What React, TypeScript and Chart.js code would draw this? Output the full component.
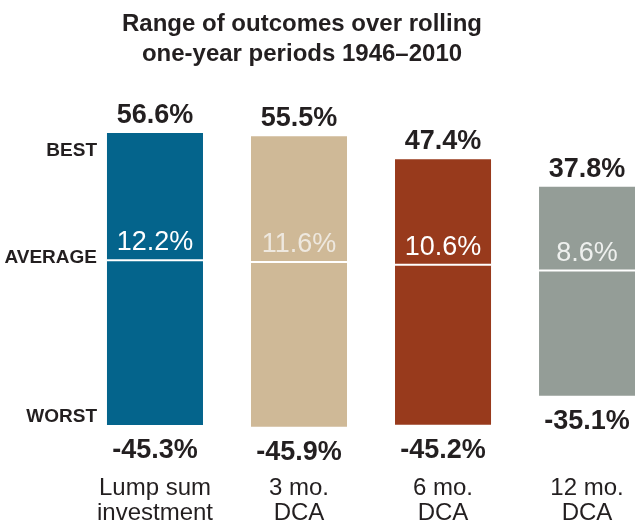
import React, { useEffect, useRef } from 'react';
import { Chart, registerables } from 'chart.js';

Chart.register(...registerables);

const categories: string[][] = [
  ['Lump sum', 'investment'],
  ['3 mo.', 'DCA'],
  ['6 mo.', 'DCA'],
  ['12 mo.', 'DCA'],
];
const bestValues = [56.6, 55.5, 47.4, 37.8];
const averageValues = [12.2, 11.6, 10.6, 8.6];
const worstValues = [-45.3, -45.9, -45.2, -35.1];
const barColors = ['#04648c', '#cfb997', '#983a1c', '#949d97'];
const averageTextColors = ['#ffffff', '#eee8df', '#ffffff', '#eef0ee'];
const yTickValues = [50.5, 13, -42.5];
const yTickLabels = ['BEST', 'AVERAGE', 'WORST'];
const titleLines = ['Range of outcomes over rolling', 'one-year periods 1946\u20132010'];

const FONT = '"Liberation Sans", Arial, sans-serif';
const TEXT = '#231f20';

const fmt = (v: number) => `${v.toFixed(1)}%`;

const rangeLabels = {
  id: 'rangeLabels',
  afterDatasetsDraw(chart: any) {
    const ctx = chart.ctx;
    const meta = chart.getDatasetMeta(0);
    const yScale = chart.scales.y;
    ctx.save();
    meta.data.forEach((bar: any, i: number) => {
      const { x, width } = bar.getProps(['x', 'width'], true);
      const left = x - width / 2;
      const yBest = yScale.getPixelForValue(bestValues[i]);
      const yWorst = yScale.getPixelForValue(worstValues[i]);
      const yAvg = yScale.getPixelForValue(averageValues[i]);
      ctx.strokeStyle = '#ffffff';
      ctx.lineWidth = 2;
      ctx.beginPath();
      ctx.moveTo(left, yAvg);
      ctx.lineTo(left + width, yAvg);
      ctx.stroke();
      ctx.textAlign = 'center';
      ctx.textBaseline = 'alphabetic';
      ctx.font = `bold 27px ${FONT}`;
      ctx.fillStyle = TEXT;
      ctx.fillText(fmt(bestValues[i]), x, yBest - 10);
      ctx.fillText(fmt(worstValues[i]), x, yWorst + 33);
      ctx.font = `27px ${FONT}`;
      ctx.fillStyle = averageTextColors[i];
      ctx.fillText(fmt(averageValues[i]), x, yAvg - 10);
    });
    ctx.font = `bold 24px ${FONT}`;
    ctx.fillStyle = TEXT;
    ctx.textAlign = 'center';
    ctx.textBaseline = 'alphabetic';
    ctx.fillText(titleLines[0], 302, 31);
    ctx.fillText(titleLines[1], 302, 61);
    ctx.restore();
  },
};

export default function App() {
  const ref = useRef<HTMLCanvasElement | null>(null);

  useEffect(() => {
    document.body.style.margin = '0';
    const canvas = ref.current;
    if (!canvas) return;
    const chart = new Chart(canvas, {
      type: 'bar',
      data: {
        datasets: [
          {
            data: categories.map((_, i) => ({ x: i, y: [worstValues[i], bestValues[i]] })) as any,
            backgroundColor: barColors,
            borderWidth: 0,
            barPercentage: 2 / 3,
            categoryPercentage: 1,
          },
        ],
      },
      options: {
        responsive: false,
        animation: false,
        layout: { padding: { top: 90, right: 0, bottom: 0, left: 0 } },
        plugins: {
          legend: { display: false },
          tooltip: { enabled: false },
          title: { display: false },
        },
        scales: {
          x: {
            type: 'linear',
            min: -0.354,
            max: 3.333,
            offset: false,
            grid: { display: false, drawTicks: false },
            border: { display: false },
            afterBuildTicks: (scale: any) => {
              scale.ticks = categories.map((_, i) => ({ value: i }));
            },
            afterFit: (scale: any) => {
              scale.height = 59;
            },
            ticks: {
              autoSkip: false,
              maxRotation: 0,
              padding: 6,
              color: TEXT,
              font: { family: FONT, size: 24, lineHeight: 1.05 },
              callback: (value: any) => categories[Math.round(Number(value))] ?? '',
            },
          },
          y: {
            type: 'linear',
            min: -61,
            max: 71.6,
            grid: { display: false, drawTicks: false },
            border: { display: false },
            afterBuildTicks: (scale: any) => {
              scale.ticks = yTickValues.map((v) => ({ value: v }));
            },
            afterFit: (scale: any) => {
              scale.width = 104;
            },
            ticks: {
              padding: 7,
              color: TEXT,
              font: { family: FONT, size: 19, weight: 'bold' },
              callback: (_v: any, index: number) => yTickLabels[index] ?? '',
            },
          },
        },
      },
      plugins: [rangeLabels],
    });
    return () => chart.destroy();
  }, []);

  return (
    <div style={{ width: 635, height: 529 }}>
      <canvas ref={ref} width={635} height={529} style={{ display: 'block' }} />
    </div>
  );
}
